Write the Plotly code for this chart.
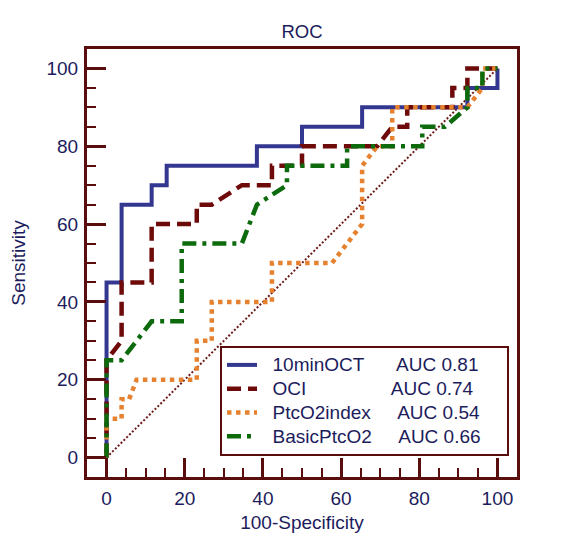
import plotly.graph_objects as go

# ---- data (100-Specificity, Sensitivity) ----
oct_x = [0, 0, 3.85, 3.85, 11.54, 11.54, 15.38, 15.38, 38.46, 38.46, 50, 50,
         65.38, 65.38, 92.31, 92.31, 100, 100]
oct_y = [0, 45, 45, 65, 65, 70, 70, 75, 75, 80, 80, 85,
         85, 90, 90, 95, 95, 100]

oci_x = [0, 0, 3.85, 3.85, 11.54, 11.54, 23.08, 23.08, 26.92, 34.62, 42.31, 42.31,
         50, 50, 69.23, 73.08, 76.92, 76.92, 88.46, 88.46, 92.31, 92.31, 100]
oci_y = [0, 25, 30, 45, 45, 60, 60, 65, 65, 70, 70, 75,
         75, 80, 80, 85, 85, 90, 90, 95, 95, 100, 100]

ptc_idx_x = [0, 0, 3.85, 3.85, 5.77, 7.69, 23.08, 23.08, 26.92, 26.92, 42.31, 42.31,
             57.69, 65.38, 65.38, 69.23, 73.08, 73.08, 92.31, 96.15, 96.15, 100]
ptc_idx_y = [0, 10, 10, 15, 15, 20, 20, 30, 30, 40, 40, 50,
             50, 60, 75, 80, 80, 90, 90, 95, 100, 100]

basic_x = [0, 0, 3.85, 11.54, 19.23, 19.23, 34.62, 38.46, 46.15, 46.15, 61.54, 61.54,
           80.77, 80.77, 86.54, 92.31, 92.31, 96.15, 96.15, 100]
basic_y = [0, 25, 25, 35, 35, 55, 55, 65, 70, 75, 75, 80,
           80, 85, 85, 90, 95, 95, 100, 100]

ref_x = [0, 100]
ref_y = [0, 100]

series_names = ["10minOCT", "OCI", "PtcO2index", "BasicPtcO2"]
auc_labels = ["AUC 0.81", "AUC 0.74", "AUC 0.54", "AUC 0.66"]
gap_spaces = [6, 16, 5, 5]

tick_vals = [0, 20, 40, 60, 80, 100]
tick_text = ["0", "20", "40", "60", "80", "100"]

# ---- styling ----
FRAME = "#5a0d0d"
TEXT = "#1c1c5c"
FONT = "Liberation Sans, Arial, sans-serif"
colors = ["#33378f", "#6e0a0a", "#e5812f", "#0d6b0d"]
dashes = ["solid", "14px,7px", "4.5px,4.5px", "14px,6px,4px,6px"]
widths = [4, 4.5, 4.5, 4.5]
NB = "\u00a0"

# page body has an 8px default margin; the figure is sized to compensate
OFF = 8
W, H = 582 - OFF, 550 - OFF
ML, MR, MT, MB = 87 - OFF, 65, 49 - OFF, 73

fig = go.Figure()
fig.add_trace(go.Scatter(x=ref_x, y=ref_y, mode="lines", showlegend=False,
                         line=dict(color="#6e1a1a", width=2, dash="2px,2px"),
                         hoverinfo="skip"))

all_x = [oct_x, oci_x, ptc_idx_x, basic_x]
all_y = [oct_y, oci_y, ptc_idx_y, basic_y]
for i in range(4):
    label = (NB * 2 + series_names[i] + NB * gap_spaces[i] + auc_labels[i] + NB * 4)
    label = '<span style="font-size:19px">' + label + '</span>'
    fig.add_trace(go.Scatter(x=all_x[i], y=all_y[i], mode="lines", name=label,
                             legendgroup=series_names[i],
                             line=dict(color=colors[i], width=widths[i], dash=dashes[i])))

axis_common = dict(
    range=[-5, 105], tickvals=tick_vals, ticktext=tick_text,
    ticks="inside", ticklen=19, tickwidth=3, tickcolor=FRAME,
    showline=True, linewidth=3, linecolor=FRAME, mirror=True,
    showgrid=False, zeroline=False, automargin=False,
    tickfont=dict(family=FONT, size=19, color=TEXT),
    ticklabelstandoff=2,
    minor=dict(dtick=5, tick0=0, ticks="inside", ticklen=9, tickwidth=2, tickcolor=FRAME),
)

pw = W - ML - MR
ph = H - MT - MB

fig.update_layout(
    width=W, height=H,
    margin=dict(l=ML, r=MR, t=MT, b=MB),
    paper_bgcolor="white", plot_bgcolor="white",
    font=dict(family=FONT, color=TEXT),
    title=dict(text="ROC", x=0.5, xref="paper", y=1 - (32 - OFF) / H, yref="container",
               xanchor="center", yanchor="middle",
               font=dict(family=FONT, size=18.5, color=TEXT)),
    xaxis=dict(axis_common, title=dict(text="100-Specificity", standoff=8,
                                       font=dict(family=FONT, size=19, color=TEXT))),
    yaxis=dict(axis_common, title=dict(text="Sensitivity", standoff=16,
                                       font=dict(family=FONT, size=19, color=TEXT))),
    legend=dict(x=(220 - 87) / pw, y=(477 - 346) / ph, xanchor="left", yanchor="top",
                bgcolor="white", bordercolor=FRAME, borderwidth=2,
                font=dict(family=FONT, size=16, color=TEXT),
                traceorder="grouped", tracegroupgap=0, itemwidth=30),
)

fig.write_html("out.html")
